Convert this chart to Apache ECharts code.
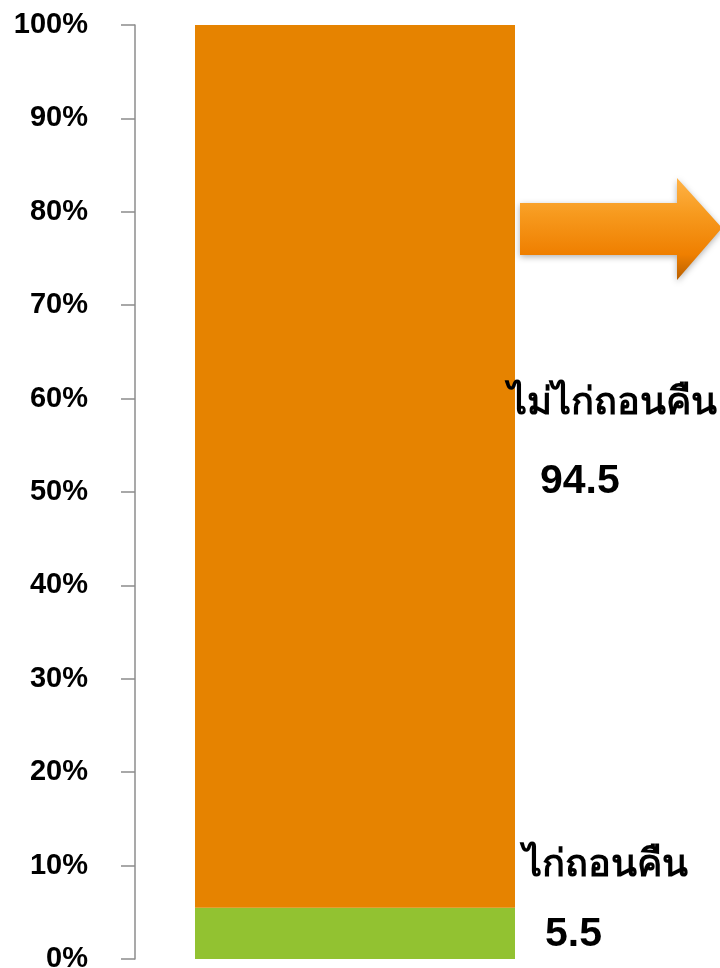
<!DOCTYPE html>
<html><head><meta charset="utf-8">
<script src="https://cdn.jsdelivr.net/npm/echarts@6/dist/echarts.min.js"></script>
<style>html,body{margin:0;padding:0;background:#fff}#c{width:720px;height:968px}</style>
</head><body><div id="c"></div>
<script>
const categories = ['ทั้งหมด'];
const returnedName = 'ไก่ถอนคืน';
const notReturnedName = 'ไม่ไก่ถอนคืน';
const returnedValues = [5.5];
const notReturnedValues = [94.5];
const yTicks = [0, 10, 20, 30, 40, 50, 60, 70, 80, 90, 100];

const chart = echarts.init(document.getElementById('c'));
const font = 'Arial, "Liberation Sans", sans-serif';
chart.setOption({
  animation: false,
  grid: {left: 135, right: 145, top: 25, bottom: 9, outerBoundsMode: 'none', containLabel: false},
  xAxis: {type: 'category', data: categories, show: false},
  yAxis: {
    type: 'value', min: 0, max: 100, interval: 10,
    axisLine: {show: true, lineStyle: {color: '#8c8c8c', width: 1.5}},
    axisTick: {show: true, length: 14, lineStyle: {color: '#8c8c8c', width: 1.5}},
    splitLine: {show: false},
    axisLabel: {margin: 47, color: '#000', fontSize: 29, fontWeight: 'bold', fontFamily: font,
      formatter: v => yTicks.includes(v) ? v + '%' : ''}
  },
  series: [
    {name: returnedName, type: 'bar', stack: 's', data: returnedValues, barWidth: 320,
     itemStyle: {color: '#92C231'},
     label: {show: true, position: 'right', distance: 0, offset: [8, -33], align: 'left',
       formatter: p => '{t|' + p.seriesName + '}\n{n|' + p.value + '}',
       rich: {
         t: {fontSize: 38, fontWeight: 'bold', color: '#000', lineHeight: 69, fontFamily: 'sans-serif'},
         n: {fontSize: 41, fontWeight: 'bold', color: '#000', lineHeight: 69, fontFamily: font, padding: [0,0,0,22]}
       }}},
    {name: notReturnedName, type: 'bar', stack: 's', data: notReturnedValues, barWidth: 320,
     itemStyle: {color: '#E68300'},
     label: {show: true, position: 'right', distance: 0, offset: [-7, -24], align: 'left',
       formatter: p => '{t|' + p.seriesName + '}\n{n|' + p.value + '}',
       rich: {
         t: {fontSize: 38, fontWeight: 'bold', color: '#000', lineHeight: 78, fontFamily: 'sans-serif'},
         n: {fontSize: 41, fontWeight: 'bold', color: '#000', lineHeight: 78, fontFamily: font, padding: [0,0,0,32]}
       }}}
  ],
  graphic: [{
    type: 'polygon', z: 10,
    shape: {points: [[520,203],[677,203],[677,178],[722,228],[677,280],[677,255],[520,255]]},
    style: {
      fill: new echarts.graphic.LinearGradient(0, 0, 0, 1, [
        {offset: 0, color: '#FFB347'}, {offset: 0.35, color: '#F79A1E'},
        {offset: 0.75, color: '#EF7F00'}, {offset: 1, color: '#B85F00'}
      ]),
      shadowBlur: 6, shadowColor: 'rgba(0,0,0,0.3)', shadowOffsetY: 2
    }
  }]
});
</script></body></html>
